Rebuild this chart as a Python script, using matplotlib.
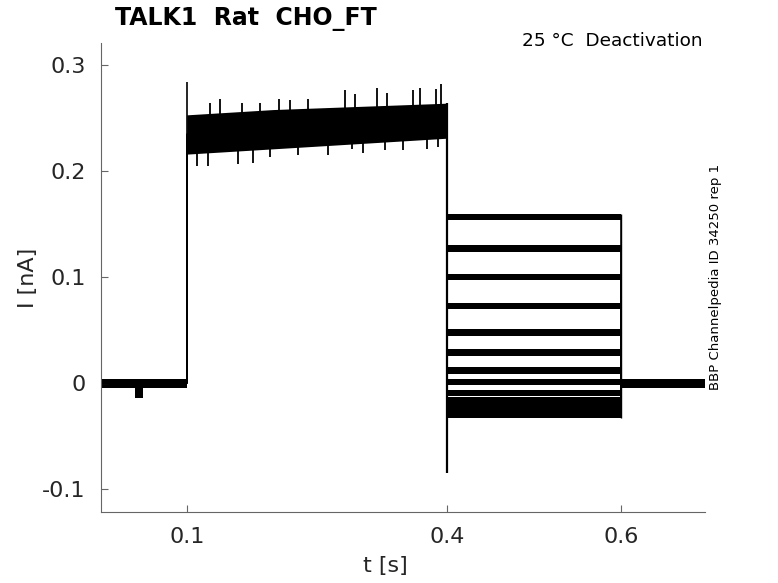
import numpy as np
import matplotlib
matplotlib.use("Agg")
import matplotlib.pyplot as plt

# ---- values ----
t_start, t_stop = 0.0013, 0.697      # first / last sample [s]
t_on, t_off, t_end = 0.1, 0.4, 0.6   # protocol steps [s]

# activation step (all sweeps overlap): dense core of the noisy traces
act_t = [0.1, 0.2, 0.3, 0.4]
act_lo = [0.216, 0.221, 0.226, 0.231]
act_hi = [0.253, 0.258, 0.261, 0.264]
# largest noise excursions seen above / below the core
up_t = [0.127, 0.1385, 0.1636, 0.1847, 0.2058, 0.2193, 0.240, 0.2827,
        0.2942, 0.3193, 0.3308, 0.3611, 0.3692, 0.3866, 0.3934]
up_v = [0.264, 0.268, 0.264, 0.264, 0.268, 0.267, 0.268, 0.276,
        0.273, 0.278, 0.274, 0.276, 0.278, 0.277, 0.282]
dn_t = [0.1116, 0.1247, 0.1593, 0.1766, 0.1962, 0.2285, 0.2631, 0.2904,
        0.3035, 0.3288, 0.3496, 0.3773, 0.3900]
dn_v = [0.205, 0.205, 0.207, 0.208, 0.213, 0.215, 0.215, 0.221,
        0.217, 0.220, 0.220, 0.221, 0.223]
spike_on = 0.284
spike_off = -0.084

# deactivation steps, one level per sweep [nA]
deact_levels = [0.157, 0.127, 0.100, 0.073, 0.048, 0.029, 0.012,
                0.001, -0.009, -0.016, -0.021, -0.026, -0.030]
deact_noise = 0.003

# holding current
base_level = 0.0
base_noise = 0.004
dip_t = [0.040, 0.050]
dip_lo = -0.014

title = "TALK1  Rat  CHO_FT"
cond = "25 \u00b0C  Deactivation"
side = "BBP Channelpedia ID 34250 rep 1"
xticks = [0.1, 0.4, 0.6]
yticks = [-0.1, 0, 0.1, 0.2, 0.3]

#=====================================================================================

fig = plt.figure(figsize=(7.78, 5.83), dpi=100)
ax = fig.add_axes([101/778, 1-512/583, 604/778, 469/583])

k = "black"
act_mid = [(a + b) / 2 for a, b in zip(act_lo, act_hi)]
for lev in deact_levels:
    ax.plot([t_start, t_on, t_on, t_off, t_off, t_end, t_end, t_stop],
            [base_level, base_level, act_mid[0], act_mid[-1], lev, lev, base_level, base_level],
            color=k, lw=0.8)
    ax.fill_between([t_off, t_end], lev-deact_noise, lev+deact_noise, color=k, lw=0)

# noise bands
ax.fill_between(act_t, act_lo, act_hi, color=k, lw=0)
ax.vlines(up_t, np.interp(up_t, act_t, act_mid), up_v, color=k, lw=1.3)
ax.vlines(dn_t, dn_v, np.interp(dn_t, act_t, act_mid), color=k, lw=1.3)
ax.fill_between([t_start, t_on], base_level-base_noise, base_level+base_noise, color=k, lw=0)
ax.fill_between([t_end, t_stop], base_level-base_noise, base_level+base_noise, color=k, lw=0)
ax.fill_between(dip_t, dip_lo, base_level, color=k, lw=0)
ax.vlines(t_on, base_level, spike_on, color=k, lw=1.2)
ax.vlines(t_off, spike_off, act_hi[-1], color=k, lw=1.6)
ax.vlines(t_end, min(deact_levels)-deact_noise, max(deact_levels)+deact_noise, color=k, lw=1.0)

ax.set_xlim(t_start, t_stop)
ax.set_ylim(-0.1212, 0.3207)
ax.set_xticks(xticks)
ax.set_xticklabels(["0.1", "0.4", "0.6"])
ax.set_yticks(yticks)
ax.set_yticklabels(["-0.1", "0", "0.1", "0.2", "0.3"])

for s in ["top", "right"]:
    ax.spines[s].set_visible(False)
for s in ["left", "bottom"]:
    ax.spines[s].set_color("#666666")
    ax.spines[s].set_linewidth(0.8)
ax.tick_params(direction="in", length=5, width=0.8, color="#666666",
               labelsize=16, labelcolor="#262626", pad=11)

ax.set_xlabel("t [s]", fontsize=16, color="#262626")
ax.xaxis.set_label_coords((385-101)/604, (512-556)/469)
ax.set_ylabel("I [nA]", fontsize=16, color="#262626")
ax.yaxis.set_label_coords((38-101)/604, 0.5)

fig.text(115/778, 1-19/583, title, fontsize=17, fontweight="bold",
         va="center", ha="left")
fig.text(703/778, 1-41/583, cond, fontsize=13.3, va="center", ha="right")
fig.text(715/778, 1-277/583, side, fontsize=9.5, rotation=90,
         va="center", ha="center")

fig.savefig("out.png", dpi=100)
